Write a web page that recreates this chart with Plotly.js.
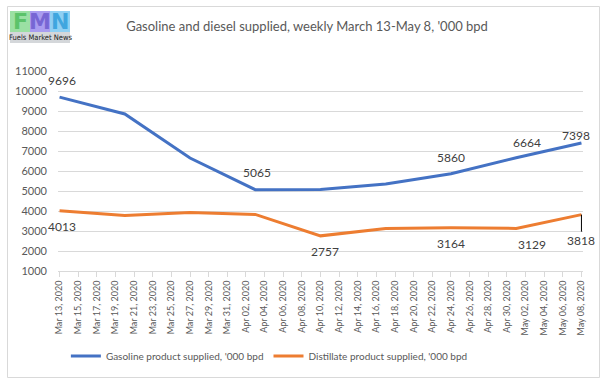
<!DOCTYPE html>
<html><head><meta charset="utf-8">
<script src="https://cdn.plot.ly/plotly-3.0.1.min.js"></script>
<style>html,body{margin:0;padding:0;background:#fff}#chart{width:608px;height:384px}</style>
</head><body><div id="chart"></div>
<script>
// Data
const dates = ['2020-03-13','2020-03-20','2020-03-27','2020-04-03','2020-04-10','2020-04-17','2020-04-24','2020-05-01','2020-05-08'];
const gasoline = [9696, 8850, 6650, 5065, 5080, 5350, 5860, 6664, 7398];
const distillate = [4013, 3780, 3930, 3830, 2757, 3130, 3164, 3129, 3818];
const gasName = "Gasoline product supplied, '000 bpd";
const distName = "Distillate product supplied, '000 bpd";
const titleText = "Gasoline and diesel supplied, weekly March 13-May 8, '000 bpd";
// which points carry a data label, with label offsets (styling)
const gasLabelIdx = [0, 3, 6, 7, 8];
const gasLabelShift = [[2, 17], [2, 17], [0, 16], [11, 15], [-5, 8]];
const distLabelIdx = [0, 4, 6, 7];
const distLabelShift = [[2, -16], [4, -16], [0, -16], [16, -16]];
const distArrowIdx = 8; // label with leader line

const FONT = 'Lato, "Liberation Sans", sans-serif';
const grey = '#595959';

const traces = [
  {x: dates, y: gasoline, name: gasName, type: 'scatter', mode: 'lines',
   line: {color: '#4472c4', width: 3}},
  {x: dates, y: distillate, name: distName, type: 'scatter', mode: 'lines',
   line: {color: '#ed7d31', width: 3}}
];

const annotations = [];
gasLabelIdx.forEach((i, k) => annotations.push({
  x: dates[i], y: gasoline[i], text: String(gasoline[i]), showarrow: false,
  xshift: gasLabelShift[k][0], yshift: gasLabelShift[k][1],
  font: {family: FONT, size: 12, color: '#404040'}
}));
distLabelIdx.forEach((i, k) => annotations.push({
  x: dates[i], y: distillate[i], text: String(distillate[i]), showarrow: false,
  xshift: distLabelShift[k][0], yshift: distLabelShift[k][1],
  font: {family: FONT, size: 12, color: '#404040'}
}));
annotations.push({
  x: dates[distArrowIdx], y: distillate[distArrowIdx], text: String(distillate[distArrowIdx]),
  showarrow: true, arrowhead: 0, arrowwidth: 1, arrowcolor: '#000', ax: 0, ay: 26,
  standoff: 0, font: {family: FONT, size: 12, color: '#404040'}
});
// Logo
const logo = [['F', '#5cc36a', '#9be0a3'], ['M', '#7766d4', '#a99cf0'], ['N', '#3fa6df', '#8fd0f3']];
const px = v => (v - 58) / 525;
const py = v => (271 - v) / 200;
const shapes = [
  {type: 'rect', xref: 'paper', yref: 'paper', x0: px(7.5), x1: px(599.5), y0: py(377.5), y1: py(6.5),
   line: {color: '#d9d9d9', width: 1}, layer: 'below'},
  {type: 'rect', xref: 'paper', yref: 'paper', x0: px(10), x1: px(70), y0: py(43), y1: py(32),
   line: {width: 0}, fillcolor: '#d4d7da'}
];
logo.forEach((l, k) => {
  shapes.push({type: 'rect', xref: 'paper', yref: 'paper', x0: px(10 + 20 * k), x1: px(30 + 20 * k),
    y0: py(32), y1: py(11), line: {width: 0}, fillcolor: l[2]});
  annotations.push({xref: 'paper', yref: 'paper', x: px(20 + 20 * k), y: py(22), xanchor: 'center', yanchor: 'middle',
    text: '<b>' + l[0] + '</b>', showarrow: false, font: {family: 'DejaVu Sans', size: 22, color: l[1]}});
});
annotations.push({xref: 'paper', yref: 'paper', x: px(40), y: py(38), xanchor: 'center', yanchor: 'middle',
  text: 'Fuels Market News', showarrow: false,
  font: {family: '"Liberation Sans Narrow", "DejaVu Sans Condensed", sans-serif', size: 7.5, color: '#222'}});

const layout = {
  width: 608, height: 384,
  margin: {l: 58, r: 25, t: 71, b: 113},
  paper_bgcolor: '#fff', plot_bgcolor: '#fff',
  font: {family: FONT, color: grey},
  title: {text: titleText, x: 0.505, xanchor: 'center', y: 0.93, yanchor: 'middle',
          font: {family: FONT, size: 13, color: grey}},
  xaxis: {type: 'date', range: ['2020-03-12 20:00', '2020-05-08 04:00'],
          tick0: '2020-03-13', dtick: 2 * 86400000, tickformat: '%b %d, %Y', tickangle: -90,
          ticks: 'outside', ticklen: 5, tickcolor: '#d9d9d9', showline: true, linecolor: '#d9d9d9',
          showgrid: false, tickfont: {family: FONT, size: 9, color: grey}, fixedrange: true},
  yaxis: {range: [1000, 11000], dtick: 1000, tickformat: 'd', showgrid: true, gridcolor: '#d9d9d9',
          zeroline: false, showline: false, ticks: '', ticklabelstandoff: 10,
          tickfont: {family: FONT, size: 11, color: grey}},
  legend: {orientation: 'h', x: 0.015, xanchor: 'left', y: py(356), yanchor: 'middle',
           font: {family: FONT, size: 10, color: grey}, itemwidth: 30, traceorder: 'normal'},
  showlegend: true,
  annotations: annotations,
  shapes: shapes
};
Plotly.newPlot('chart', traces, layout, {displayModeBar: false, staticPlot: true});
</script></body></html>
